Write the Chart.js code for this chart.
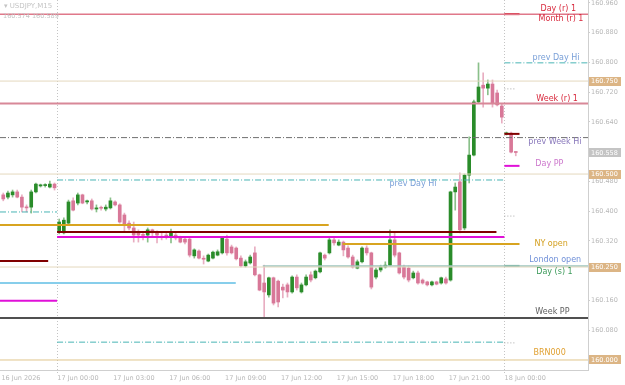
<!DOCTYPE html>
<html>
<head>
<meta charset="utf-8">
<script src="https://cdn.jsdelivr.net/npm/chart.js@4.4.1/dist/chart.umd.min.js"></script>
<style>
  html, body { margin: 0; padding: 0; background: #fff; }
  #wrap { width: 625px; height: 385px; }
</style>
</head>
<body>
<div id="wrap"><canvas id="chart"></canvas></div>
<script>
// USDJPY M15, bar 0 = 17 Jun 00:00
const firstBar = -12;
const opens = [
  160.444, 160.438, 160.444, 160.452, 160.438, 160.411, 160.411, 160.452, 160.468, 160.469, 160.465, 160.473,
  160.344, 160.342, 160.368, 160.428, 160.422, 160.444, 160.425, 160.428, 160.406, 160.409, 160.406, 160.409,
  160.425, 160.417, 160.390, 160.368, 160.355, 160.344, 160.336, 160.336, 160.350, 160.342, 160.331, 160.336,
  160.333, 160.336, 160.328, 160.325, 160.325, 160.280, 160.293, 160.272, 160.266, 160.274, 160.282, 160.288,
  160.325, 160.304, 160.301, 160.274, 160.253, 160.261, 160.288, 160.229, 160.207, 160.175, 160.221, 160.212,
  160.196, 160.202, 160.183, 160.223, 160.183, 160.202, 160.229, 160.221, 160.237, 160.282, 160.288, 160.323,
  160.309, 160.317, 160.301, 160.277, 160.247, 160.264, 160.301, 160.288, 160.223, 160.242, 160.250, 160.255,
  160.323, 160.288, 160.250, 160.247, 160.221, 160.234, 160.215, 160.210, 160.202, 160.210, 160.207, 160.218,
  160.215, 160.452, 160.479, 160.355, 160.497, 160.551, 160.694, 160.739, 160.731, 160.742, 160.718, 160.683,
  160.608, 160.610, 160.559
];
const highs = [
  160.449, 160.454, 160.457, 160.457, 160.444, 160.417, 160.457, 160.476, 160.473, 160.474, 160.481, 160.476,
  160.379, 160.382, 160.430, 160.436, 160.449, 160.446, 160.430, 160.433, 160.417, 160.414, 160.417, 160.436,
  160.428, 160.420, 160.395, 160.374, 160.371, 160.350, 160.342, 160.355, 160.352, 160.347, 160.342, 160.342,
  160.352, 160.342, 160.333, 160.331, 160.328, 160.299, 160.296, 160.280, 160.285, 160.293, 160.296, 160.331,
  160.336, 160.309, 160.304, 160.280, 160.269, 160.282, 160.304, 160.231, 160.255, 160.223, 160.223, 160.215,
  160.204, 160.207, 160.226, 160.229, 160.207, 160.229, 160.237, 160.242, 160.290, 160.285, 160.328, 160.331,
  160.323, 160.320, 160.307, 160.282, 160.269, 160.304, 160.307, 160.290, 160.247, 160.255, 160.264, 160.350,
  160.344, 160.290, 160.255, 160.253, 160.239, 160.239, 160.218, 160.212, 160.212, 160.212, 160.223, 160.223,
  160.454, 160.476, 160.503, 160.500, 160.600, 160.699, 160.799, 160.772, 160.753, 160.753, 160.726, 160.688,
  160.613, 160.613, 160.560
];
const lows = [
  160.428, 160.433, 160.438, 160.436, 160.398, 160.398, 160.395, 160.449, 160.465, 160.465, 160.463, 160.457,
  160.339, 160.339, 160.366, 160.401, 160.417, 160.420, 160.420, 160.403, 160.398, 160.403, 160.401, 160.406,
  160.414, 160.368, 160.344, 160.350, 160.317, 160.317, 160.323, 160.317, 160.331, 160.315, 160.323, 160.325,
  160.315, 160.323, 160.315, 160.312, 160.277, 160.274, 160.272, 160.258, 160.264, 160.272, 160.280, 160.285,
  160.282, 160.285, 160.269, 160.250, 160.250, 160.258, 160.226, 160.186, 160.116, 160.169, 160.148, 160.143,
  160.167, 160.169, 160.180, 160.188, 160.180, 160.199, 160.210, 160.218, 160.234, 160.269, 160.285, 160.309,
  160.307, 160.280, 160.274, 160.247, 160.245, 160.261, 160.282, 160.191, 160.218, 160.237, 160.247, 160.253,
  160.277, 160.231, 160.218, 160.210, 160.218, 160.204, 160.204, 160.199, 160.199, 160.202, 160.204, 160.204,
  160.212, 160.403, 160.342, 160.350, 160.476, 160.549, 160.691, 160.680, 160.713, 160.680, 160.683, 160.637,
  160.605, 160.557, 160.549
];
const closes = [
  160.433, 160.449, 160.452, 160.438, 160.411, 160.409, 160.452, 160.473, 160.471, 160.470, 160.473, 160.463,
  160.371, 160.376, 160.425, 160.403, 160.444, 160.422, 160.428, 160.406, 160.409, 160.408, 160.411, 160.428,
  160.417, 160.371, 160.363, 160.355, 160.336, 160.336, 160.335, 160.350, 160.342, 160.336, 160.330, 160.331,
  160.342, 160.328, 160.317, 160.317, 160.282, 160.296, 160.274, 160.271, 160.282, 160.290, 160.291, 160.328,
  160.288, 160.288, 160.272, 160.253, 160.264, 160.277, 160.229, 160.188, 160.183, 160.221, 160.153, 160.156,
  160.188, 160.183, 160.223, 160.194, 160.202, 160.223, 160.215, 160.239, 160.288, 160.274, 160.323, 160.315,
  160.317, 160.296, 160.277, 160.250, 160.264, 160.301, 160.288, 160.196, 160.242, 160.250, 160.255, 160.323,
  160.282, 160.234, 160.223, 160.215, 160.234, 160.207, 160.207, 160.202, 160.210, 160.204, 160.221, 160.207,
  160.452, 160.465, 160.350, 160.497, 160.551, 160.694, 160.734, 160.731, 160.742, 160.691, 160.686, 160.653,
  160.610, 160.559, 160.558
];

const timeTicks = [-12, 0, 12, 24, 36, 48, 60, 72, 84, 96];
const timeLabels = ["16 Jun 2026", "17 Jun 00:00", "17 Jun 03:00", "17 Jun 06:00", "17 Jun 09:00",
  "17 Jun 12:00", "17 Jun 15:00", "17 Jun 18:00", "17 Jun 21:00", "18 Jun 00:00"];
const priceTicks = [160.000, 160.080, 160.160, 160.240, 160.320, 160.400, 160.480,
  160.560, 160.640, 160.720, 160.800, 160.880, 160.960];
const alertPrices = [160.750, 160.500, 160.250, 160.000];
const daySeps = [-0.45, 95.55];

// horizontal levels: price, first bar, last bar, kind
const L = -12.7, R = 113.5;
const levelPrices = [160.930, 160.930, 160.799, 160.750, 160.729, 160.690, 160.608, 160.598, 160.522,
  160.500, 160.484, 160.398, 160.387, 160.363, 160.344, 160.331, 160.312, 160.266, 160.250, 160.253,
  160.253, 160.207, 160.159, 160.113, 160.048, 160.046, 160.000];
const levelFrom = [L, 95.55, 95.55, L, 95.55, L, 95.55, L, 95.55,
  L, -0.45, L, 95.55, L, -0.45, -0.45, 60.85, L, L, 43.7,
  95.55, L, L, L, -0.45, 95.55, L];
const levelTo = [R, 98.8, R, R, 97.7, R, 98.8, R, 98.8,
  R, 95.55, -0.45, 97.7, 57.85, 93.85, 95.55, 98.8, -2.36, R, R,
  98.8, 37.9, -0.45, R, 95.55, 97.7, R];
const levelKinds = ["monthR", "dayR", "prevHi", "alert", "dots", "weekR", "open", "prevWeek", "pivot",
  "alert", "prevHi", "prevHi", "dots", "ny", "open", "pivot", "ny", "open", "alert", "london",
  "dayS", "sky", "pivot", "weekPP", "prevHi", "dots", "brn"];

const labelTexts = ["Day (r) 1", "Month (r) 1", "prev Day Hi", "Week (r) 1", "prev Week Hi", "Day PP",
  "prev Day Hi", "NY open", "London open", "Day (s) 1", "Week PP", "BRN000"];
const labelPrices = [160.930, 160.930, 160.799, 160.690, 160.598, 160.522,
  160.484, 160.312, 160.253, 160.253, 160.113, 160.000];

const styles = {
  monthR: { color: "#e0788a", width: 1.5 },
  dayR: { color: "#d0101e", width: 2 },
  prevHi: { color: "#48b4b4", width: 1, dash: [6, 2, 1, 2] },
  alert: { color: "#e4d8be", width: 1 },
  dots: { color: "#a8a8a8", width: 1, dash: [1, 2] },
  weekR: { color: "#d88898", width: 2 },
  open: { color: "#800000", width: 2 },
  prevWeek: { color: "#707070", width: 1, dash: [6, 2, 1, 2] },
  pivot: { color: "#e010d8", width: 2 },
  ny: { color: "#d8a420", width: 2 },
  london: { color: "#9cc4bc", width: 1.5 },
  dayS: { color: "#5ea88a", width: 2 },
  sky: { color: "#87ceeb", width: 2 },
  weekPP: { color: "#505050", width: 2 },
  brn: { color: "#e0c68c", width: 1 }
};

// text layout: left edge in bars, vertical offset in px, colour
const labelLayout = [
  [103.3, -5, "#d8283c"], [102.9, 5, "#d8283c"], [101.6, -5, "#7aa0d8"], [102.4, -4, "#d8283c"],
  [100.7, 4, "#8877bb"], [102.2, -2, "#cc77cc"], [70.9, 4, "#7aa0d8"], [102.0, 0, "#d4a020"],
  [100.9, -6, "#7090d8"], [102.4, 6, "#3c9a5a"], [102.2, -6, "#606060"], [101.8, -7, "#e0a030"]
];

const GREEN = "#2a8c2a", PINK = "#d87898";
const GREEN_WICK = "rgba(42,140,42,0.55)", PINK_WICK = "rgba(216,120,152,0.6)";

const wicks = [], bodies = [], bodyColors = [], wickColors = [];
for (let k = 0; k < opens.length; k++) {
  const x = firstBar + k;
  const up = closes[k] >= opens[k];
  wicks.push({ x: x, y: [lows[k], highs[k]] });
  bodies.push({ x: x, y: [opens[k], closes[k]] });
  bodyColors.push(up ? GREEN : PINK);
  wickColors.push(up ? GREEN_WICK : PINK_WICK);
}

const levelSets = levelPrices.map(function (p, k) {
  const st = styles[levelKinds[k]];
  return {
    type: "line",
    data: [{ x: levelFrom[k], y: p }, { x: levelTo[k], y: p }],
    borderColor: st.color,
    borderWidth: st.width,
    borderDash: st.dash || [],
    pointRadius: 0,
    fill: false,
    order: 0
  };
});

const overlay = {
  id: "overlay",
  beforeDatasetsDraw(chart) {
    const ctx = chart.ctx, xs = chart.scales.x, a = chart.chartArea;
    ctx.save();
    ctx.strokeStyle = "#c4c4c4";
    ctx.lineWidth = 1;
    ctx.setLineDash([1, 2]);
    daySeps.forEach(function (b) {
      const px = Math.round(xs.getPixelForValue(b)) + 0.5;
      ctx.beginPath();
      ctx.moveTo(px, a.top);
      ctx.lineTo(px, a.bottom + 4);
      ctx.stroke();
    });
    ctx.restore();
  },
  afterDraw(chart) {
    const ctx = chart.ctx, xs = chart.scales.x, ys = chart.scales.y, a = chart.chartArea;
    ctx.save();
    ctx.font = "8px 'DejaVu Sans'";
    ctx.textBaseline = "middle";
    ctx.textAlign = "left";
    labelTexts.forEach(function (t, k) {
      const lay = labelLayout[k];
      ctx.fillStyle = lay[2];
      ctx.fillText(t, xs.getPixelForValue(lay[0]), ys.getPixelForValue(labelPrices[k]) + lay[1]);
    });

    // price boxes on the axis
    ctx.font = "6.5px 'DejaVu Sans'";
    function box(p, bg) {
      const y = ys.getPixelForValue(p);
      ctx.fillStyle = bg;
      ctx.fillRect(a.right + 1, Math.round(y - 4.5), 32, 9);
      ctx.fillStyle = "#ffffff";
      ctx.fillText(p.toFixed(3), a.right + 3, y + 0.5);
    }
    alertPrices.forEach(function (p) { box(p, "#dcb585"); });
    box(closes[closes.length - 1], "#c4c4c4");

    // symbol caption
    ctx.fillStyle = "#c4c4c4";
    ctx.font = "7px 'DejaVu Sans'";
    ctx.fillText("\u25BE USDJPY,M15", 4, 6);
    ctx.font = "6.5px 'DejaVu Sans'";
    ctx.fillText("160.574 160.589", 3, 16);
    ctx.restore();
  }
};

Chart.defaults.font.family = "'DejaVu Sans'";

new Chart(document.getElementById("chart"), {
  type: "bar",
  data: {
    datasets: levelSets.concat([
      {
        data: bodies,
        backgroundColor: bodyColors,
        barThickness: 3,
        minBarLength: 1,
        grouped: false,
        order: 1
      },
      {
        data: wicks,
        backgroundColor: wickColors,
        barThickness: 1,
        minBarLength: 1,
        grouped: false,
        order: 2
      }
    ])
  },
  options: {
    responsive: true,
    maintainAspectRatio: false,
    animation: false,
    layout: { padding: 0 },
    plugins: {
      legend: { display: false },
      title: { display: false },
      tooltip: { enabled: false }
    },
    scales: {
      x: {
        type: "linear",
        min: L,
        max: R,
        offset: false,
        grid: { display: false, drawTicks: false },
        border: { display: true, color: "#cfcfcf" },
        afterBuildTicks: function (scale) {
          scale.ticks = timeTicks.map(function (b) { return { value: b - 0.4 }; });
        },
        afterFit: function (scale) {
          scale.height = 15;
          scale.paddingLeft = 0;
          scale.paddingRight = 0;
        },
        ticks: {
          autoSkip: false,
          maxRotation: 0,
          align: "start",
          padding: 4,
          color: "#b8b8b8",
          font: { size: 6.5 },
          callback: function (v, i) { return timeLabels[i]; }
        }
      },
      y: {
        type: "linear",
        position: "right",
        min: 159.9731,
        max: 160.968,
        grid: { display: true, drawOnChartArea: false, drawTicks: true, tickLength: 2, color: "#cfcfcf" },
        border: { display: true, color: "#cfcfcf" },
        afterBuildTicks: function (scale) {
          scale.ticks = priceTicks.map(function (p) { return { value: p }; });
        },
        afterFit: function (scale) {
          scale.width = 37;
          scale.paddingTop = 0;
          scale.paddingBottom = 0;
        },
        ticks: {
          padding: 1,
          color: "#b8b8b8",
          font: { size: 6.5 },
          callback: function (v) { return v.toFixed(3); }
        }
      }
    }
  },
  plugins: [overlay]
});
</script>
</body>
</html>
